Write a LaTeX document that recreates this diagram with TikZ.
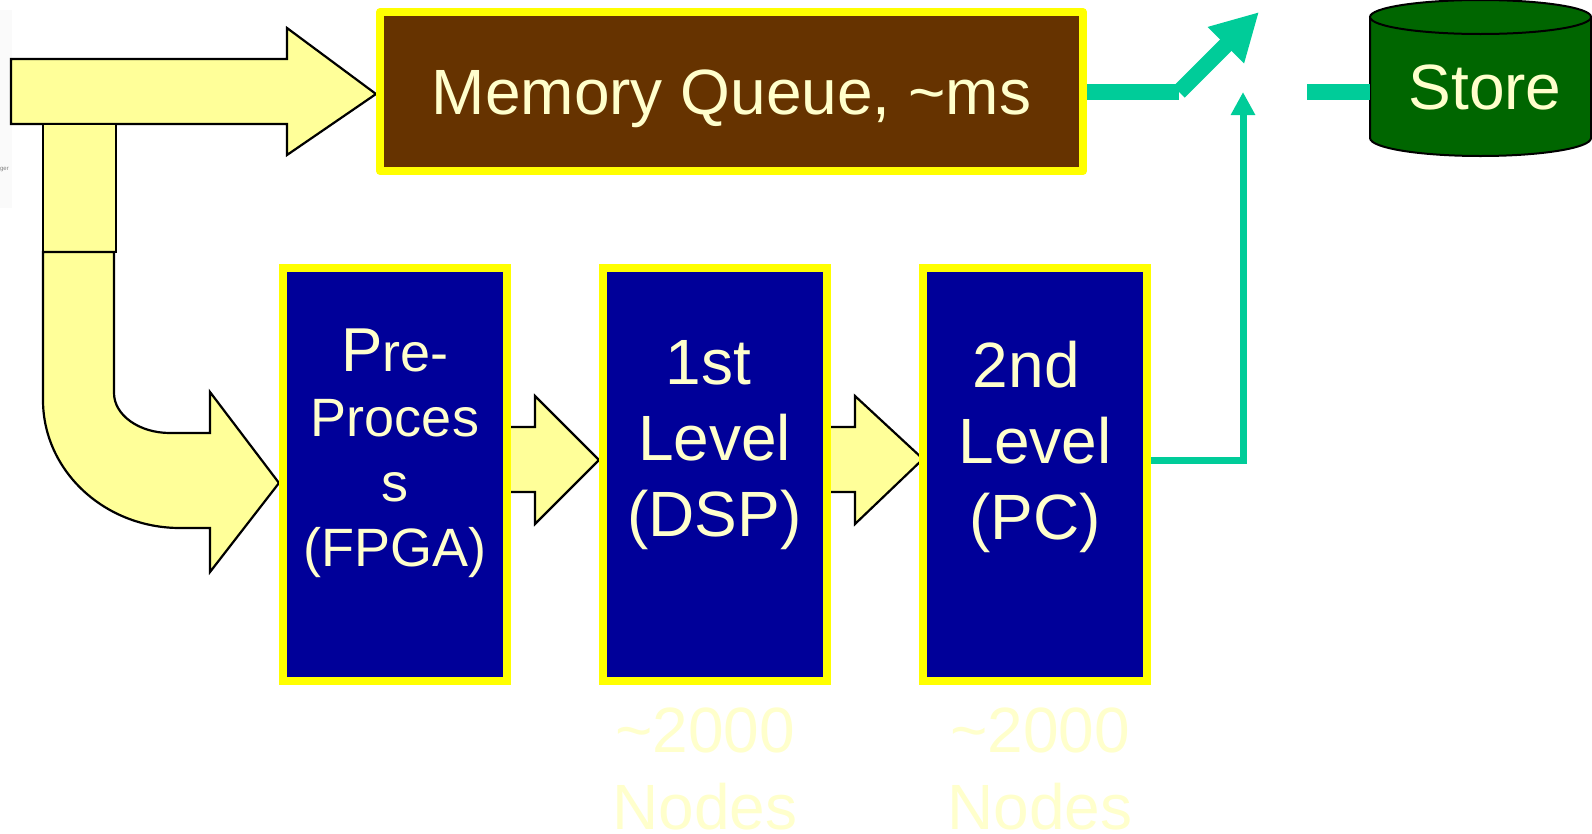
\documentclass[tikz,border=0pt]{standalone}
\usepackage{fontspec}
\setmainfont{Liberation Sans}
\usetikzlibrary{arrows.meta}

\definecolor{flowfill}{HTML}{FFFF99}
\definecolor{queuebrown}{HTML}{663300}
\definecolor{stageblue}{HTML}{000099}
\definecolor{rimyellow}{HTML}{FFFF00}
\definecolor{storegreen}{HTML}{006600}
\definecolor{linkteal}{HTML}{00CC99}
\definecolor{cream}{HTML}{FFFFCC}

\begin{document}
\begin{tikzpicture}[x=1pt,y=-1pt,
  flowarrow/.style={fill=flowfill, draw=black, line width=2.2pt, line join=miter},
  stage/.style={rectangle, draw=rimyellow, fill=stageblue, line width=8pt,
    inner sep=0pt, minimum width=224pt, minimum height=413pt},
  stagetext/.style={text=cream, align=center, anchor=north, inner sep=0pt,
    font=\fontsize{64}{76}\selectfont},
  nodecount/.style={text=cream, align=center, anchor=north, inner sep=0pt,
    font=\fontsize{64}{77}\selectfont},
  thicklink/.style={draw=linkteal, line width=16pt},
  thinlink/.style={draw=linkteal, line width=7pt}
]
\useasboundingbox (0,0) rectangle (1592,833);

% faint side panel with its clipped label
\fill[gray!4] (0,10) rectangle (12,208);
\node[font=\fontsize{6}{7}\selectfont, text=gray, anchor=east, inner sep=0pt] (sidelabel) at (9,170) {ger};

% incoming data: straight block arrow to the queue
\draw[flowarrow] (11,59) -- (287,59) -- (287,28) -- (376,94) -- (287,155)
  -- (287,124) -- (11,124) -- cycle;
% branch stub below the straight arrow
\draw[flowarrow] (43,124) rectangle (116,252);
% bent block arrow into the pre-processor
\draw[flowarrow] (43,252) -- (43,400)
  arc[start angle=180, end angle=90, x radius=137, y radius=128]
  -- (210,528) -- (210,572) -- (279,483) -- (210,392) -- (210,433) -- (170,433)
  arc[start angle=90, end angle=180, x radius=56, y radius=40]
  -- (114,252) -- cycle;

% block arrows between the stages
\draw[flowarrow] (507,427) -- (535,427) -- (535,396) -- (599,460) -- (535,524)
  -- (535,492) -- (507,492);
\draw[flowarrow] (826,427) -- (855,427) -- (855,396) -- (923,459) -- (855,524)
  -- (855,492) -- (826,492);

% memory queue
\node[rectangle, draw=rimyellow, fill=queuebrown, line width=8pt, line join=round,
  minimum width=703pt, minimum height=159pt, inner sep=0pt, text=cream,
  font=\fontsize{64}{76}\selectfont, text height=46pt, text depth=0pt]
  (mem) at (731.5,91.5) {Memory Queue, \textasciitilde ms};

% processing stages
\node[stage] (pre) at (395,474.5) {};
\node[stage] (l1) at (714.5,474.5) {};
\node[stage] (l2) at (1035,474.5) {};

\node[stagetext, font=\fontsize{54}{65}\selectfont] (pretext) at (395,329)
  {{\fontsize{62}{65}\selectfont P}re-\\Proces\\s\\(FPGA)};
\node[stagetext] (l1text) at (714.5,340) {1st\kern.2em\\Level\\(DSP)};
\node[stagetext] (l2text) at (1035,341) {2nd\kern.27em\\Level\\(PC)};

% node counts under the two trigger levels
\node[nodecount] (l1count) at (705,708) {\textasciitilde2000\\Nodes};
\node[nodecount] (l2count) at (1040,708) {\textasciitilde2000\\Nodes};

% storage cylinder
\fill[storegreen, draw=black, line width=2pt] (1370,17) -- (1370,138)
  arc[start angle=180, end angle=0, x radius=110.5, y radius=18] -- (1591,17);
\draw[fill=storegreen, draw=black, line width=2pt] (1480.5,17) ellipse[x radius=110.5, y radius=17];
\node[text=cream, font=\fontsize{64}{76}\selectfont, text height=46pt, text depth=0pt,
  minimum width=221pt, inner sep=0pt] (store) at (1480.5,86) {\hspace*{9pt}Store};

% switch: queue output, its lever, and the store input
\coordinate (bend) at (1179,92);
\coordinate (levertip) at (1259,12);
\coordinate (swin) at (1307,92);
\coordinate (trigtip) at (1243,92);
\draw[thicklink] (mem.east |- bend) -- (bend);
\draw[thicklink, -{Triangle[length=47pt, width=48pt]}] (bend) -- (levertip);
\draw[thicklink] (swin) -- (swin -| store.west);
% trigger decision from the second level
\draw[thinlink, -{Triangle[length=23pt, width=23pt]}] ([yshift=14.5pt]l2.east) -| (trigtip);
\end{tikzpicture}
\end{document}
